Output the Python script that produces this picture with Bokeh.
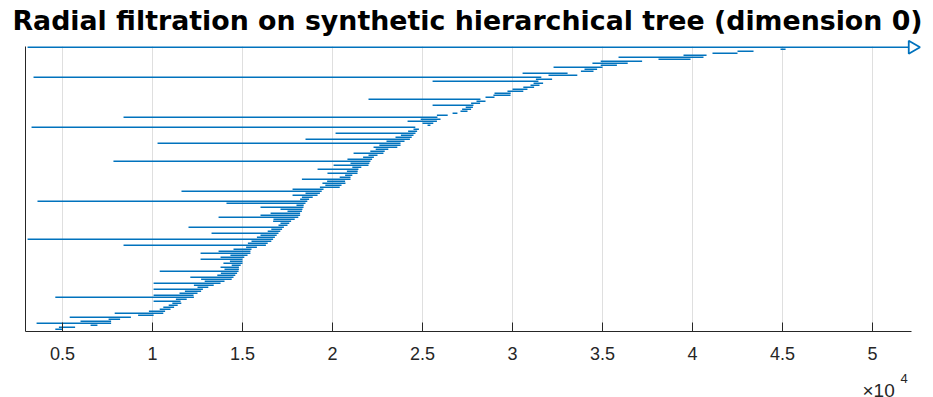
import numpy as np
from bokeh.plotting import figure
from bokeh.models import Range1d, FixedTicker, Label
from bokeh.embed import file_html
from bokeh.resources import INLINE

# Persistence barcode (dimension 0): birth / death radii, sorted by death
births = [4600, 4800, 6560, 3560, 6000, 7560, 5400, 9200, 7900, 9800,
          10400, 10600, 10900, 11100, 10060, 11300, 4600, 10060, 11500, 11800,
          10060, 12500, 12300, 10060, 12900, 12700, 12100, 13600, 13800, 10400,
          14000, 13780, 14400, 13940, 14300, 12670, 13780, 14330, 12670, 13670,
          14500, 15200, 8390, 15300, 15500, 3060, 15800, 16000, 13280, 16400,
          16600, 12000, 17000, 17110, 16700, 16720, 13670, 16000, 16560, 17500,
          17110, 16000, 18000, 14110, 3610, 18200, 18300, 17780, 18500, 11610,
          17780, 19300, 19600, 19440, 19700, 18300, 20400, 20700, 19720, 20800,
          19170, 21100, 20060, 21000, 7830, 20830, 21700, 22000, 21170, 22100,
          22400, 22280, 22600, 10280, 23000, 18500, 23500, 23800, 20170, 24200,
          24500, 3280, 25280, 25000, 24170, 24900, 8390, 25800, 26670, 27110,
          27200, 27400, 25560, 27700, 28000, 22000, 28500, 28940, 29000, 29720,
          30000, 30600, 31000, 31170, 25560, 31300, 3390, 32000, 30560, 33800,
          34000, 32280, 34900, 34440, 34900, 38110, 35890, 39500, 41110, 42500,
          44890]
deaths = [5000, 5700, 6940, 7700, 7700, 8200, 8800, 10060, 10600, 10700,
          11000, 11200, 11400, 11600, 11560, 11900, 12300, 12280, 12500, 12700,
          12800, 13100, 13400, 13780, 14000, 14400, 14500, 14600, 14700, 14780,
          14800, 14800, 14900, 15000, 15000, 15000, 15100, 15280, 15440, 15440,
          15500, 15800, 16300, 16400, 16600, 16700, 16800, 16900, 17000, 17100,
          17200, 17300, 17500, 17600, 17700, 17900, 18100, 18200, 18200, 18300,
          18330, 18390, 18400, 18500, 18600, 18700, 18900, 19170, 19300, 19400,
          19500, 20400, 20500, 20720, 20700, 21000, 21000, 21100, 21390, 21400,
          21440, 21600, 22000, 22050, 22110, 22200, 22300, 22500, 22830, 22900,
          23100, 23600, 23780, 23780, 24000, 24300, 24400, 24500, 24610, 24700,
          24800, 24600, 25440, 25600, 25800, 26000, 25830, 26400, 26940, 27500,
          27700, 27800, 27830, 28200, 28500, 28220, 29000, 29890, 29900, 30600,
          30830, 31200, 31500, 31700, 31440, 32200, 31600, 33600, 33060, 34500,
          34700, 35000, 35800, 36400, 37200, 39890, 40610, 40780, 42500, 43390,
          45170]
inf_birth = 3060          # the one bar that never dies

tick_values = [5000, 10000, 15000, 20000, 25000, 30000, 35000, 40000, 45000, 50000]
tick_labels = ["0.5", "1", "1.5", "2", "2.5", "3", "3.5", "4", "4.5", "5"]
title_text = "Radial filtration on synthetic hierarchical tree (dimension 0)"

# view window (the plotting area covers the whole canvas; axes sit at fixed spots)
X_VIEW = (1555.1, 53388.4)
Y_VIEW = (-34.125, 164.375)
X_AXIS_START, X_AXIS_END = 2944, 52167
Y_AXIS_LOC, Y_BAR_TOP = -1.125, 141.375
INF_END = 52222
BLUE = "#0072BD"
AXIS_GRAY = "#262626"
FONT = "Liberation Sans"

n = len(births)
idx = list(range(n))

p = figure(width=933, height=397, output_backend="svg", toolbar_location=None,
           x_range=Range1d(*X_VIEW), y_range=Range1d(*Y_VIEW),
           min_border_left=0, min_border_right=0, min_border_top=0,
           min_border_bottom=0)
p.title.visible = False
p.outline_line_color = None
p.background_fill_color = "white"
p.border_fill_color = "white"
p.xgrid.visible = False
p.ygrid.visible = False

# vertical grid lines at the ticks, limited to the axes box
p.segment(x0=tick_values, y0=[Y_AXIS_LOC] * len(tick_values), x1=tick_values,
          y1=[Y_BAR_TOP] * len(tick_values), line_color="#dfdfdf", line_width=1)

# finite bars
p.segment(x0=births, y0=idx, x1=deaths, y1=idx, line_color=BLUE, line_width=1.5)
# infinite bar with its arrow marker
p.segment(x0=[inf_birth], y0=[n], x1=[INF_END], y1=[n], line_color=BLUE, line_width=1.5)
p.scatter(x=[INF_END], y=[n], marker="triangle", size=13, angle=-np.pi / 2,
          fill_color="white", line_color=BLUE, line_width=1.8)

# title
p.add_layout(Label(x=27500, y=154.375, text=title_text, text_align="center",
                   text_baseline="middle", text_font="DejaVu Sans",
                   text_font_size="26.8px", text_font_style="bold", text_color="black"))

# axes (fixed inside the view)
xa = p.xaxis[0]
xa.fixed_location = Y_AXIS_LOC
xa.ticker = FixedTicker(ticks=tick_values)
xa.major_label_overrides = {v: t for v, t in zip(tick_values, tick_labels)}
xa.major_label_text_font = FONT
xa.major_label_text_font_size = "18px"
xa.major_label_text_color = AXIS_GRAY
xa.major_tick_in = 9
xa.major_tick_out = 0
xa.minor_tick_line_color = None
xa.major_tick_line_color = AXIS_GRAY
xa.axis_line_color = AXIS_GRAY
xa.major_label_standoff = 15
xa.bounds = (X_AXIS_START, X_AXIS_END)

ya = p.yaxis[0]
ya.fixed_location = X_AXIS_START
ya.ticker = FixedTicker(ticks=[])
ya.major_tick_line_color = None
ya.minor_tick_line_color = None
ya.axis_line_color = AXIS_GRAY
ya.bounds = (Y_AXIS_LOC, Y_BAR_TOP)

# exponent note (x10^4)
p.add_layout(Label(x=49444, y=-30.525, text="\u00d710", text_font=FONT,
                   text_font_size="19px", text_color=AXIS_GRAY,
                   text_baseline="middle", text_align="left"))
p.add_layout(Label(x=51555, y=-24.725, text="4", text_font=FONT,
                   text_font_size="13px", text_color=AXIS_GRAY,
                   text_baseline="middle", text_align="left"))

open("out.html", "w").write(file_html(p, INLINE))
